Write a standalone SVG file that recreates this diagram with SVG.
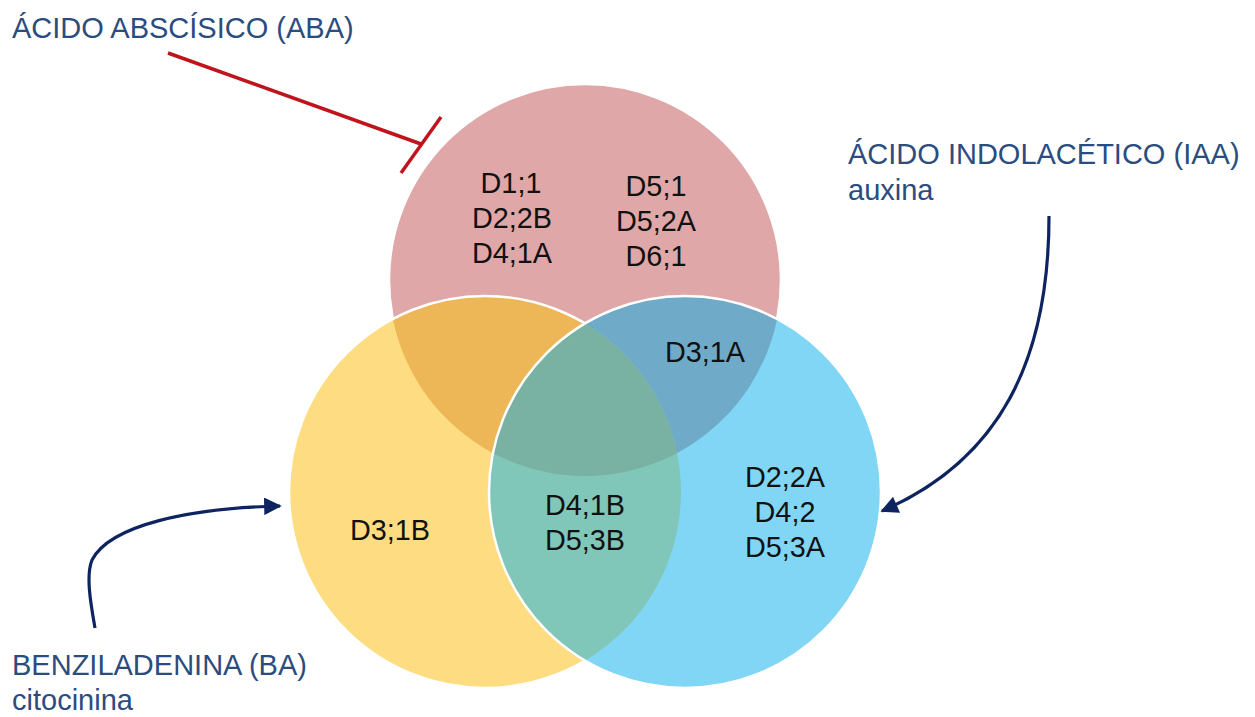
<svg xmlns="http://www.w3.org/2000/svg" width="1255" height="717" viewBox="0 0 1255 717">
<style>
.lbl{font-family:"Liberation Sans",Arial,sans-serif;font-size:29px;fill:#2B4C7E}
.t{font-family:"Liberation Sans",Arial,sans-serif;font-size:28.8px;fill:#111;text-anchor:middle}
.edge{fill:none;stroke:#fff;stroke-width:2.5}
.arr{fill:none;stroke:#0E2460;stroke-width:3.2}
</style>
<defs>
<clipPath id="cR"><circle cx="585" cy="280" r="196"/></clipPath>
<clipPath id="cY"><circle cx="485" cy="492" r="196"/></clipPath>
<clipPath id="cB"><circle cx="685" cy="492" r="196"/></clipPath>
<marker id="ah" viewBox="0 0 10 10" refX="9" refY="5" markerWidth="6.5" markerHeight="5.5" markerUnits="strokeWidth" orient="auto">
<path d="M0,0 L10,5 L0,10 z" fill="#0E2460"/>
</marker>
</defs>
<g id="circle-aba">
<circle cx="585" cy="280" r="196" fill="#DFA7A7" class="edge" style="fill:#DFA7A7"/>
</g>
<g id="circle-ba">
<circle cx="485" cy="492" r="196" fill="#FEDC81"/>
<circle cx="485" cy="492" r="196" fill="#EDB657" clip-path="url(#cR)"/>
<circle cx="485" cy="492" r="196" class="edge"/>
</g>
<g id="circle-iaa">
<circle cx="685" cy="492" r="196" fill="#81D6F6"/>
<g clip-path="url(#cB)">
<circle cx="585" cy="280" r="196" fill="#6FABC9"/>
<circle cx="485" cy="492" r="196" fill="#80C6B9"/>
<g clip-path="url(#cR)"><circle cx="485" cy="492" r="196" fill="#79B1A2"/></g>
</g>
<circle cx="685" cy="492" r="196" class="edge"/>
</g>
<g id="texts">
<text class="t" x="511" y="193">D1;1</text>
<text class="t" x="512" y="228">D2;2B</text>
<text class="t" x="512" y="263">D4;1A</text>
<text class="t" x="656" y="196">D5;1</text>
<text class="t" x="656" y="231">D5;2A</text>
<text class="t" x="656" y="266">D6;1</text>
<text class="t" x="705" y="362">D3;1A</text>
<text class="t" x="390" y="540">D3;1B</text>
<text class="t" x="585" y="515">D4;1B</text>
<text class="t" x="585" y="550">D5;3B</text>
<text class="t" x="785" y="487">D2;2A</text>
<text class="t" x="785" y="522">D4;2</text>
<text class="t" x="785" y="557">D5;3A</text>
</g>
<g id="label-aba"><text class="lbl" x="12" y="38">ÁCIDO ABSCÍSICO (ABA)</text></g>
<g id="label-iaa"><text class="lbl" x="848" y="164">ÁCIDO INDOLACÉTICO (IAA)</text><text class="lbl" x="848" y="200">auxina</text></g>
<g id="label-ba"><text class="lbl" x="12" y="675">BENZILADENINA (BA)</text><text class="lbl" x="12" y="710">citocinina</text></g>
<g id="connectors">
<path d="M168,53 L421,144" stroke="#C0141C" stroke-width="3.5" fill="none"/>
<path d="M441,117 L401,173" stroke="#C0141C" stroke-width="3.5" fill="none"/>
<path class="arr" d="M1049,216 C1049,360 1000,460 882,511" marker-end="url(#ah)"/>
<path class="arr" d="M95,628 C90,600 86,575 92,560 C110,525 190,508 280,506" marker-end="url(#ah)"/>
</g>
</svg>
